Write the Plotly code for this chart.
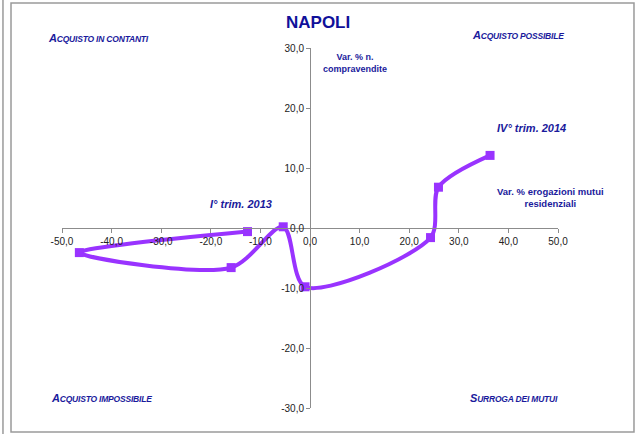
import plotly.graph_objects as go

# Quarterly path, I° trim. 2013 -> IV° trim. 2014
mutui_var = [-12.6, -46.5, -15.9, -5.4, -1.0, 24.3, 25.9, 36.3]   # Var. % erogazioni mutui residenziali
compr_var = [-0.6, -4.1, -6.6, 0.2, -9.8, -1.6, 6.8, 12.1]        # Var. % n. compravendite

x_ticks = [-50, -40, -30, -20, -10, 0, 10, 20, 30, 40, 50]
y_ticks = [-30, -20, -10, 0, 10, 20, 30]

PURPLE = "#9933ff"
NAVY = "#1a1a9c"
FONT = "Arial, Liberation Sans, sans-serif"


def it_label(v):
    # Italian decimal comma with a plain hyphen for negatives
    return f"{v:.1f}".replace(".", ",")


fig = go.Figure()
fig.add_trace(go.Scatter(
    x=mutui_var, y=compr_var, mode="lines+markers",
    line=dict(color=PURPLE, width=4, shape="spline", smoothing=0.85),
    marker=dict(symbol="square", size=9, color=PURPLE),
    hoverinfo="x+y", showlegend=False,
))


def smallcaps(text, big=11, small=8.5):
    sty = "font-weight:bold;font-style:italic;letter-spacing:-0.2px"
    return (f"<span style='font-size:{big}px;{sty}'>{text[0]}</span>"
            f"<span style='font-size:{small}px;{sty}'>{text[1:]}</span>")


annotations = [
    dict(x=0.5165, y=1.072, text="<b>NAPOLI</b>", font=dict(size=17, color="#10109a")),
    dict(x=0.0726, y=1.028, text=smallcaps("ACQUISTO IN CONTANTI")),
    dict(x=0.919, y=1.036, text=smallcaps("ACQUISTO POSSIBILE")),
    dict(x=0.0806, y=0.028, text=smallcaps("ACQUISTO IMPOSSIBILE")),
    dict(x=0.911, y=0.028, text=smallcaps("SURROGA DEI MUTUI")),
    dict(x=0.5907, y=0.958, text="<b>Var. % n.<br>compravendite</b>", font=dict(size=9, color=NAVY)),
    dict(x=0.984, y=0.586, text="<b>Var. % erogazioni mutui<br>residenziali</b>", font=dict(size=9.5, color=NAVY)),
    dict(x=0.361, y=0.567, text="<b><i>I° trim. 2013</i></b>", font=dict(size=11, color=NAVY)),
    dict(x=0.9456, y=0.778, text="<b><i>IV° trim. 2014</i></b>", font=dict(size=11, color=NAVY)),
]
for a in annotations:
    a.setdefault("font", dict(size=10, color=NAVY))
    a["font"].setdefault("family", FONT)
    a.update(xref="paper", yref="paper", showarrow=False, xanchor="center", yanchor="middle")

border = dict(color="#9a9a9a", width=1.5)
shapes = [
    dict(type="rect", xref="paper", yref="paper", x0=-0.1028, x1=1.1532, y0=-0.0667, y1=1.125, line=border),
    dict(type="line", xref="paper", yref="paper", x0=-0.119, x1=-0.119, y0=-0.08, y1=1.14, line=border),
]

axis_common = dict(
    showgrid=False, zeroline=False, showline=True, linecolor="#8c8c8c", linewidth=1,
    ticks="outside", ticklen=4, tickcolor="#8c8c8c",
    tickfont=dict(family=FONT, size=10, color="#222222"), fixedrange=True,
)

fig.update_layout(
    width=638, height=434,
    margin=dict(l=62, r=80, t=48, b=26),
    paper_bgcolor="white", plot_bgcolor="white",
    xaxis=dict(range=[-50, 50], tickvals=x_ticks, ticktext=[it_label(v) for v in x_ticks],
               anchor="free", position=0.5, **axis_common),
    yaxis=dict(range=[-30, 30], tickvals=y_ticks, ticktext=[it_label(v) for v in y_ticks],
               anchor="free", position=0.5, **axis_common),
    annotations=annotations, shapes=shapes,
)

fig.write_html("out.html")
